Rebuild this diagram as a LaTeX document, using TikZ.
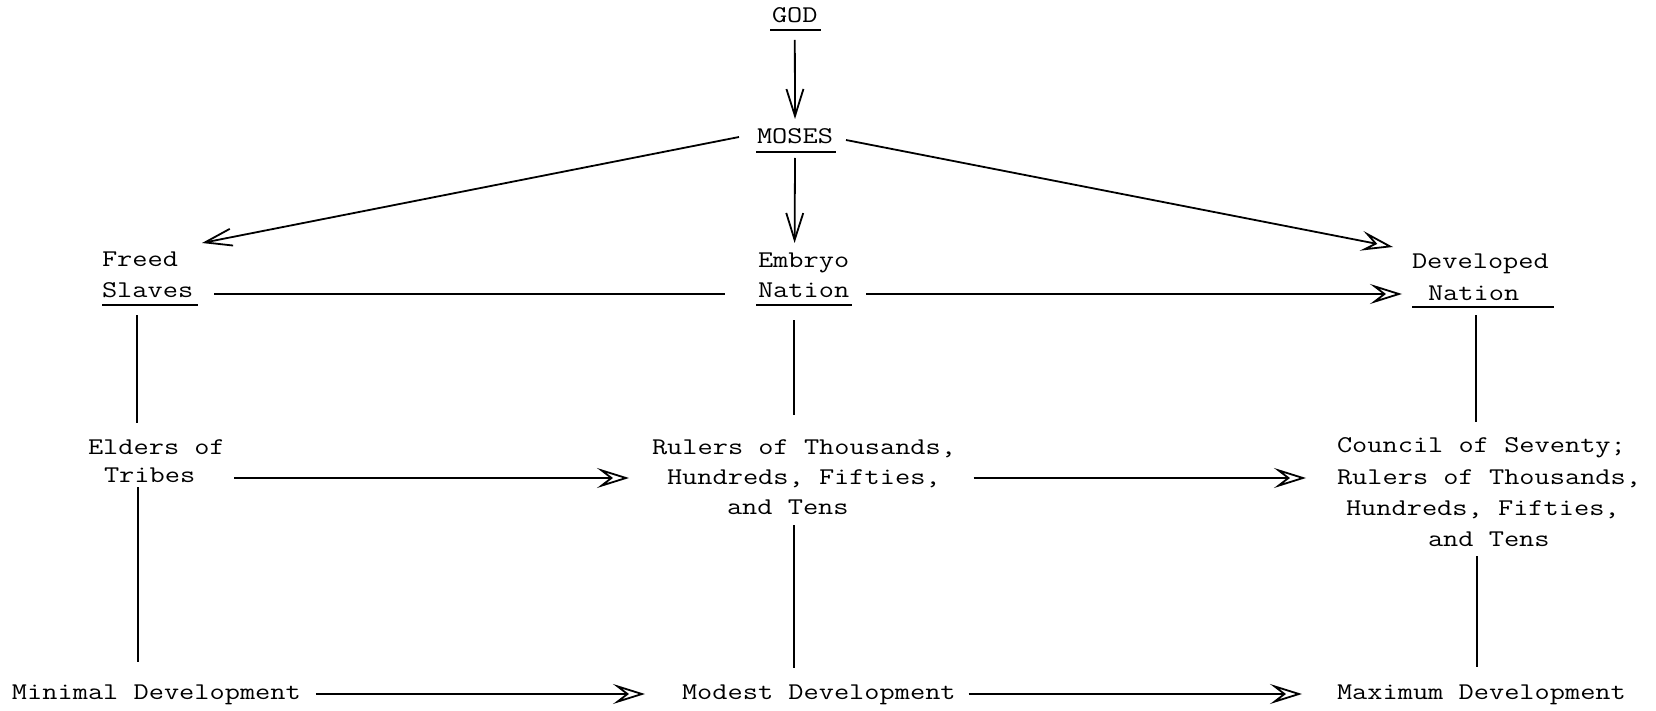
\documentclass[tikz,border=0pt]{standalone}
\usepackage{fontspec}
\newfontfamily\tw[FakeStretch=1.23]{Latin Modern Mono}
\usetikzlibrary{arrows.meta}
\begin{document}
\begin{tikzpicture}[x=1pt,y=-1pt,
  lbl/.style={inner sep=0pt, outer sep=0pt, text height=14pt, text depth=4pt, anchor=base west, font=\tw\fontsize{24}{30}\selectfont},
  conn/.style={line width=1.8pt},
  vee/.style={conn, -{Straight Barb[length=27pt,width=17pt]}},
  dbl/.style={conn, -{Stealth[open,length=32pt,width=20pt,inset=13pt]}},
  uline/.style={line width=1.6pt}]
\useasboundingbox (0,0) rectangle (1656,711);
% labels
\node[lbl] (god) at (772,23) {GOD};
\node[lbl] (moses) at (757,144) {MOSES};
\node[lbl] (freed) at (102,266) {Freed};
\node[lbl] (slaves) at (102,298) {Slaves};
\node[lbl] (embryo) at (758,267) {Embryo};
\node[lbl] (enation) at (758,297) {Nation};
\node[lbl] (developed) at (1412,269) {Developed};
\node[lbl] (dnation) at (1428,300) {Nation};
\node[lbl] (elders) at (88,454) {Elders of};
\node[lbl] (tribes) at (104,482) {Tribes};
\node[lbl] (rul1) at (652,454) {Rulers of Thousands,};
\node[lbl] (rul2) at (667,484) {Hundreds, Fifties,};
\node[lbl] (rul3) at (727,514) {and Tens};
\node[lbl] (cou1) at (1337,452) {Council of Seventy;};
\node[lbl] (cou2) at (1337,484) {Rulers of Thousands,};
\node[lbl] (cou3) at (1346,515) {Hundreds, Fifties,};
\node[lbl] (cou4) at (1428,546) {and Tens};
\node[lbl] (minimal) at (12,699) {Minimal Development};
\node[lbl] (modest) at (682,699) {Modest Development};
\node[lbl] (maximum) at (1337,699) {Maximum Development};
% underlines
\draw[uline] ([shift={(-2,7)}]god.base west) -- ([shift={(3,7)}]god.base east);
\draw[uline] ([shift={(-1,8)}]moses.base west) -- ([shift={(3,8)}]moses.base east);
\draw[uline] ([shift={(0,7)}]slaves.base west) -- ([shift={(5,7)}]slaves.base east);
\draw[uline] ([shift={(-2,8)}]enation.base west) -- ([shift={(3,8)}]enation.base east);
\draw[uline] ([shift={(-16,7)}]dnation.base west) -- ([shift={(35,7)}]dnation.base east);
% connectors
\draw[vee] ([shift={(0,13)}]god.south) -- ([shift={(0,-11)}]moses.north);
\draw[vee] ([shift={(-18,-2)}]moses.west) -- ([shift={(24,-9)}]freed.north east);
\draw[vee] ([shift={(0,10)}]moses.south) -- ([shift={(-9,-10)}]embryo.north);
\draw[dbl] ([shift={(13,1)}]moses.east) -- ([shift={(-19,-8)}]developed.north west);
\draw[conn] ([shift={(21,1)}]slaves.east) -- ([shift={(-33,2)}]enation.west);
\draw[dbl] ([shift={(17,2)}]enation.east) -- ([shift={(-26,-1)}]dnation.west);
\draw[conn] ([shift={(35,13)}]slaves.south west) -- ([shift={(49,-17)}]elders.north west);
\draw[conn] ([shift={(34,1)}]tribes.south west) -- ([shift={(126,-23)}]minimal.north west);
\draw[dbl] ([shift={(39,1)}]tribes.east) -- ([shift={(-38,-1)}]rul2.west);
\draw[dbl] ([shift={(33,-1)}]rul2.east) -- ([shift={(-31,-1)}]cou2.west);
\draw[conn] ([shift={(36,19)}]enation.south west) -- ([shift={(142,-25)}]rul1.north west);
\draw[conn] ([shift={(67,7)}]rul3.south west) -- ([shift={(112,-17)}]modest.north west);
\draw[conn] ([shift={(48,11)}]dnation.south west) -- ([shift={(139,-16)}]cou1.north west);
\draw[conn] ([shift={(49,6)}]cou4.south west) -- ([shift={(140,-18)}]maximum.north west);
\draw[dbl] ([shift={(15,0)}]minimal.east) -- ([shift={(-37,0)}]modest.west);
\draw[dbl] ([shift={(13,0)}]modest.east) -- ([shift={(-35,0)}]maximum.west);
\end{tikzpicture}
\end{document}
